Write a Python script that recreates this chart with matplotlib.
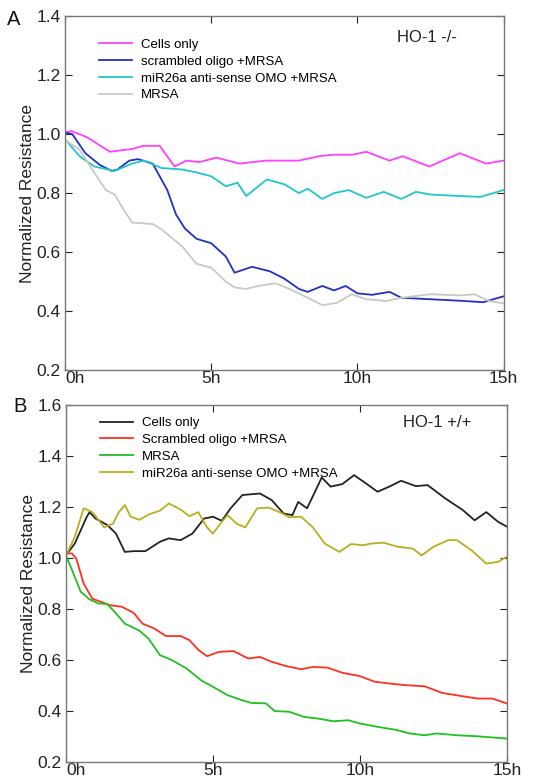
import numpy as np
import matplotlib
matplotlib.use('Agg')
import matplotlib.pyplot as plt

plt.rcParams['font.family'] = ['Liberation Sans', 'DejaVu Sans']

# Panel A (HO-1 -/-)
tA_cells = [0, 0.23, 0.74, 1.54, 2.33, 2.67, 3.24, 3.75, 4.15, 4.6, 5.18, 5.97, 6.88, 8.0, 8.7, 9.16, 9.84, 10.3, 11.1, 11.55, 12.46, 13.5, 14.4, 15]
yA_cells = [1.006, 1.01, 0.99, 0.94, 0.95, 0.96, 0.96, 0.89, 0.91, 0.905, 0.92, 0.90, 0.91, 0.91, 0.925, 0.93, 0.93, 0.94, 0.91, 0.925, 0.89, 0.935, 0.90, 0.91]

tA_scr = [0, 0.25, 0.7, 1.2, 1.6, 1.8, 2.2, 2.5, 3.0, 3.5, 3.8, 4.1, 4.5, 5.0, 5.5, 5.8, 6.4, 7.0, 7.5, 8.0, 8.3, 8.8, 9.2, 9.6, 10.0, 10.5, 11.1, 11.5, 12.5, 13.5, 14.3, 15]
yA_scr = [1.005, 1.0, 0.935, 0.895, 0.875, 0.88, 0.91, 0.915, 0.90, 0.81, 0.727, 0.68, 0.645, 0.63, 0.585, 0.53, 0.55, 0.535, 0.51, 0.475, 0.465, 0.485, 0.47, 0.485, 0.46, 0.455, 0.465, 0.445, 0.44, 0.435, 0.43, 0.45]

tA_omo = [0, 0.5, 1.0, 1.7, 2.3, 2.7, 3.3, 4.0, 4.5, 5.0, 5.5, 5.9, 6.2, 6.9, 7.5, 8.0, 8.3, 8.8, 9.2, 9.7, 10.3, 10.9, 11.5, 12.0, 12.5, 13.5, 14.2, 15]
yA_omo = [0.983, 0.925, 0.89, 0.875, 0.90, 0.91, 0.885, 0.88, 0.87, 0.857, 0.823, 0.835, 0.79, 0.846, 0.83, 0.80, 0.815, 0.78, 0.80, 0.81, 0.784, 0.804, 0.78, 0.804, 0.795, 0.79, 0.787, 0.81]

tA_mrsa = [0, 0.5, 1.0, 1.4, 1.7, 2.0, 2.3, 3.0, 3.3, 4.0, 4.5, 5.0, 5.5, 5.8, 6.2, 6.6, 7.2, 7.7, 8.3, 8.8, 9.3, 9.8, 10.3, 11.0, 11.5, 12.5, 13.5, 14.0, 14.5, 15]
yA_mrsa = [0.98, 0.947, 0.87, 0.81, 0.795, 0.745, 0.70, 0.695, 0.677, 0.62, 0.56, 0.547, 0.50, 0.48, 0.475, 0.485, 0.494, 0.474, 0.445, 0.42, 0.428, 0.457, 0.44, 0.434, 0.445, 0.457, 0.453, 0.457, 0.434, 0.426]

# Panel B (HO-1 +/+)
tB_cells = [0, 0.3, 0.7, 0.8, 1.0, 1.4, 1.7, 2.0, 2.3, 2.7, 3.2, 3.5, 3.9, 4.3, 4.7, 5.0, 5.3, 5.6, 6.0, 6.6, 7.0, 7.4, 7.7, 7.9, 8.2, 8.5, 8.7, 9.0, 9.4, 9.8, 10.2, 10.6, 11.0, 11.4, 11.9, 12.3, 12.9, 13.5, 13.9, 14.3, 14.7, 15]
yB_cells = [1.011, 1.057, 1.16, 1.18, 1.155, 1.13, 1.096, 1.024, 1.027, 1.027, 1.064, 1.077, 1.07, 1.096, 1.155, 1.162, 1.146, 1.195, 1.247, 1.253, 1.227, 1.175, 1.168, 1.22, 1.195, 1.267, 1.316, 1.28, 1.29, 1.325, 1.293, 1.26, 1.28, 1.303, 1.282, 1.286, 1.234, 1.188, 1.148, 1.18, 1.142, 1.123]

tB_scr = [0, 0.2, 0.35, 0.6, 0.9, 1.2, 1.5, 1.9, 2.3, 2.6, 3.0, 3.4, 3.9, 4.2, 4.5, 4.8, 5.2, 5.7, 6.2, 6.6, 7.0, 7.5, 8.0, 8.4, 8.9, 9.4, 10.0, 10.5, 11.0, 11.5, 12.2, 12.8, 13.5, 14.0, 14.5, 15]
yB_scr = [1.018, 1.018, 0.998, 0.90, 0.84, 0.828, 0.815, 0.809, 0.785, 0.743, 0.724, 0.694, 0.694, 0.678, 0.64, 0.615, 0.632, 0.635, 0.606, 0.612, 0.593, 0.576, 0.564, 0.573, 0.57, 0.55, 0.537, 0.515, 0.508, 0.502, 0.497, 0.471, 0.458, 0.449, 0.449, 0.43]

tB_mrsa = [0, 0.3, 0.5, 0.8, 1.1, 1.4, 1.7, 2.0, 2.5, 2.8, 3.2, 3.6, 4.1, 4.6, 5.0, 5.5, 6.0, 6.3, 6.8, 7.1, 7.6, 8.1, 8.6, 9.1, 9.6, 10.0, 10.6, 11.2, 11.7, 12.2, 12.6, 13.3, 14.0, 15]
yB_mrsa = [1.01, 0.926, 0.868, 0.838, 0.822, 0.82, 0.783, 0.743, 0.715, 0.685, 0.619, 0.60, 0.567, 0.52, 0.495, 0.462, 0.442, 0.432, 0.43, 0.40, 0.397, 0.377, 0.37, 0.36, 0.364, 0.351, 0.338, 0.327, 0.312, 0.305, 0.312, 0.305, 0.301, 0.292]

tB_omo = [0, 0.3, 0.6, 0.9, 1.3, 1.6, 1.8, 2.0, 2.2, 2.5, 2.8, 3.2, 3.5, 3.9, 4.2, 4.5, 4.8, 5.0, 5.3, 5.5, 5.8, 6.1, 6.5, 6.9, 7.3, 7.6, 8.0, 8.4, 8.8, 9.3, 9.7, 10.1, 10.4, 10.8, 11.3, 11.8, 12.1, 12.5, 13.0, 13.3, 13.8, 14.3, 14.7, 15]
yB_omo = [1.01, 1.083, 1.195, 1.18, 1.12, 1.135, 1.18, 1.208, 1.162, 1.15, 1.17, 1.186, 1.214, 1.19, 1.164, 1.18, 1.12, 1.096, 1.142, 1.168, 1.135, 1.12, 1.195, 1.198, 1.178, 1.16, 1.162, 1.12, 1.057, 1.024, 1.055, 1.05, 1.057, 1.06, 1.044, 1.037, 1.01, 1.044, 1.07, 1.07, 1.03, 0.978, 0.985, 1.005]

xticks = [0, 5, 10, 15]
xticklabels = ['0h', '5h', '10h', '15h']


def style_axes(ax, ylim, yticks):
    ax.set_xlim(0, 15)
    ax.set_ylim(*ylim)
    ax.set_xticks(xticks)
    ax.set_xticklabels(xticklabels)
    ax.set_yticks(yticks)
    ax.set_yticklabels(['%.1f' % v for v in yticks])
    ax.tick_params(direction='in', top=True, right=True, length=5, labelsize=12.5, colors='#222222', pad=3)
    ax.tick_params(axis='x', pad=1)
    ax.get_xticklabels()[0].set_horizontalalignment('left')
    for s in ax.spines.values():
        s.set_color('#777777')
        s.set_linewidth(1.0)
    ax.set_ylabel('Normalized Resistance', fontsize=12.5, color='#222222', labelpad=1)


fig = plt.figure(figsize=(5.41, 7.84), dpi=100)

axA = fig.add_axes([0.120, 0.528, 0.811, 0.4515])
axA.plot(tA_cells, yA_cells, color='#ff40ff', lw=1.3, label='Cells only')
axA.plot(tA_scr, yA_scr, color='#2030c8', lw=1.3, label='scrambled oligo +MRSA')
axA.plot(tA_omo, yA_omo, color='#20c8c8', lw=1.3, label='miR26a anti-sense OMO +MRSA')
axA.plot(tA_mrsa, yA_mrsa, color='#c8c8c8', lw=1.3, label='MRSA')
style_axes(axA, (0.2, 1.4), [0.2, 0.4, 0.6, 0.8, 1.0, 1.2, 1.4])
axA.legend(loc='upper left', bbox_to_anchor=(0.05, 0.97), frameon=False, fontsize=9.5,
           handlelength=2.5, handletextpad=0.7, labelspacing=0.35)
axA.text(0.758, 0.94, 'HO-1 -/-', transform=axA.transAxes, fontsize=12, color='#222222', va='center')
fig.text(0.012, 0.975, 'A', fontsize=14.5, color='#111111', va='center')

axB = fig.add_axes([0.122, 0.028, 0.815, 0.4554])
axB.plot(tB_cells, yB_cells, color='#222222', lw=1.3, label='Cells only')
axB.plot(tB_scr, yB_scr, color='#ff3020', lw=1.3, label='Scrambled oligo +MRSA')
axB.plot(tB_mrsa, yB_mrsa, color='#20c020', lw=1.3, label='MRSA')
axB.plot(tB_omo, yB_omo, color='#b8ae20', lw=1.3, label='miR26a anti-sense OMO +MRSA')
style_axes(axB, (0.2, 1.6), [0.2, 0.4, 0.6, 0.8, 1.0, 1.2, 1.4, 1.6])
axB.legend(loc='upper left', bbox_to_anchor=(0.05, 1.0), frameon=False, fontsize=9.5,
           handlelength=2.5, handletextpad=0.7, labelspacing=0.35)
axB.text(0.765, 0.95, 'HO-1 +/+', transform=axB.transAxes, fontsize=12, color='#222222', va='center')
fig.text(0.025, 0.482, 'B', fontsize=14.5, color='#111111', va='center')

fig.savefig('out.png', dpi=100)
